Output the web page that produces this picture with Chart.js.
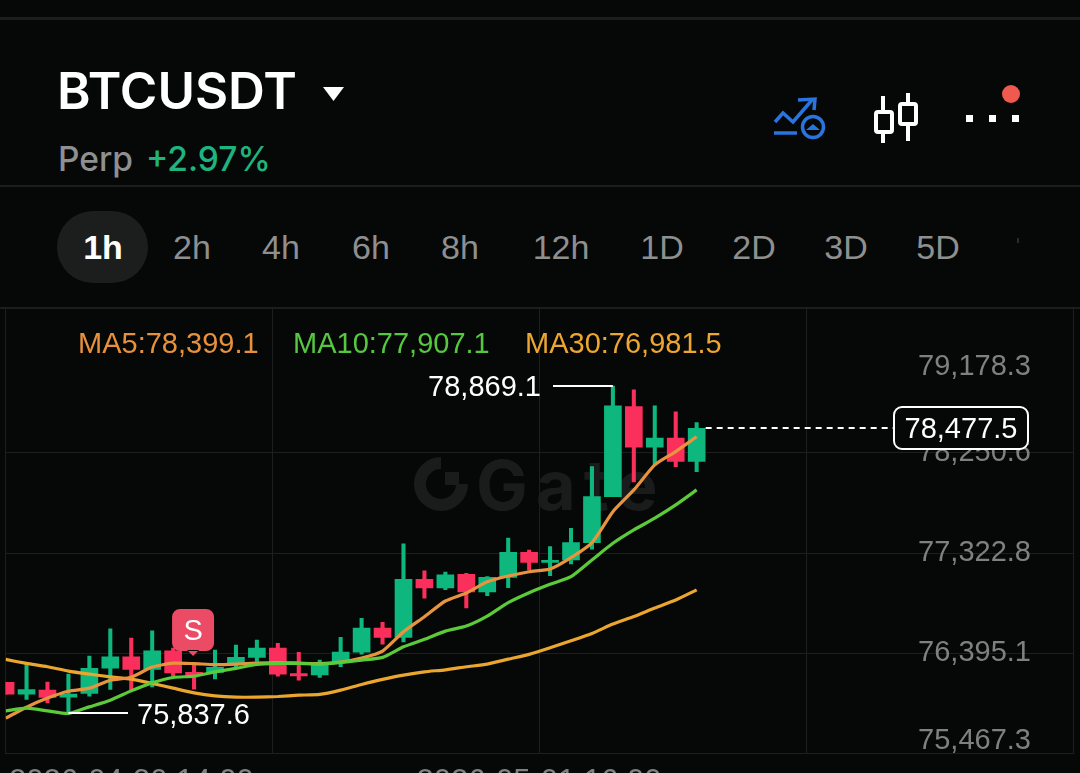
<!DOCTYPE html>
<html>
<head>
<meta charset="utf-8">
<title>BTCUSDT</title>
<script src="https://cdn.jsdelivr.net/npm/chart.js@4"></script>
<style>
  html, body { margin: 0; padding: 0; background: #060707; }
  #page { position: relative; width: 1080px; height: 773px; overflow: hidden; background: #060707; font-family: "Liberation Sans", sans-serif; }
  #page > * { position: absolute; }
  canvas { left: 0; top: 0; }
  .rule { left: 0; width: 1080px; background: #1c1d1d; }
  .title { left: 57px; top: 60px; font: 600 51px Inter, sans-serif; color: #fff; line-height: 62px; white-space: nowrap; }
  .perp { left: 58px; top: 140px; font: 500 33.5px Inter, sans-serif; color: #8e8f90; line-height: 38px; }
  .change { left: 146px; top: 140px; font: 500 33.5px Inter, sans-serif; color: #1fb47e; line-height: 38px; }
  .pill { left: 57px; top: 211px; width: 91px; height: 72px; border-radius: 36px; background: #1c1d1d; }
  .tab { top: 228px; font-size: 34px; line-height: 38px; color: #8e8f8f; transform: translateX(-50%); }
  .tab.on { color: #fff; font-weight: 700; }
</style>
</head>
<body>
<div id="page">
  <div class="rule" style="top:17px;height:3px"></div>
  <div class="rule" style="top:185px;height:2px"></div>
  <div class="rule" style="top:307px;height:2px"></div>
  <div class="title">BTCUSDT</div>
  <div class="perp">Perp</div>
  <div class="change">+2.97%</div>
  <div class="pill"></div>
  <div id="tabs"></div>
  <svg width="1080" height="260" style="left:0;top:0">
    <polygon points="323,87 344,87 333.5,101" fill="#fff"/>
    <g fill="none" stroke="#2a74e0" stroke-width="3.5">
      <polyline points="775,122 783,113 793,122 812,100"/>
      <polyline points="798,100 815,99 814,110"/>
      <line x1="774" y1="133" x2="797" y2="133"/>
      <circle cx="813" cy="127" r="10.5"/>
    </g>
    <polygon points="806,130 820,130 813,124" fill="#2a74e0"/>
    <g fill="#060707" stroke="#fff" stroke-width="4">
      <line x1="883" y1="96" x2="883" y2="143"/>
      <rect x="876" y="112" width="16" height="20" rx="2"/>
      <line x1="908" y1="93" x2="908" y2="141"/>
      <rect x="900" y="104" width="16" height="20" rx="2"/>
    </g>
    <rect x="966" y="115" width="7" height="7" fill="#fff"/>
    <rect x="989" y="115" width="7" height="7" fill="#fff"/>
    <rect x="1012" y="115" width="7" height="7" fill="#fff"/>
    <circle cx="1011" cy="94" r="9" fill="#f05a4e"/>
    <rect x="1017" y="238" width="2" height="5" fill="#2a2b2b"/>
  </svg>
  <canvas id="klineChart" width="1080" height="773"></canvas>
</div>

<script>
const intervals = ["1h", "2h", "4h", "6h", "8h", "12h", "1D", "2D", "3D", "5D"]
const intervalCenters = [103, 192, 281, 371, 460, 561, 662, 754, 846, 938]

const yTicks = [75467.3, 76395.1, 77322.8, 78250.6, 79178.3]
const xTicks = [0, 12.75, 25.5, 38.25, 51]
const dateLabels = ["2026-04-30 14:00", "2026-05-01 16:00"]

// candles, oldest first
const open = [76125, 76017, 76054, 75989, 76023, 76258, 76362, 76245, 76418, 76218, 76218, 76301, 76357, 76443, 76208, 76195, 76320, 76406, 76628, 76542, 77080, 76999, 77126, 76962, 77098, 77330, 77237, 77259, 77419, 77845, 78679, 78303, 78386, 78170]
const high = [76125, 76295, 76128, 76202, 76369, 76622, 76536, 76603, 76443, 76295, 76424, 76471, 76517, 76486, 76403, 76332, 76542, 76718, 76681, 77407, 77157, 77147, 77135, 77104, 77462, 77351, 77382, 77552, 78123, 78869.1, 78834, 78686, 78630, 78531]
const low = [76017, 75968, 75936, 75837.6, 75998, 76060, 76054, 76084, 76183, 76063, 76158, 76255, 76320, 76183, 76146, 76171, 76270, 76387, 76480, 76499, 76904, 76983, 76814, 76928, 77002, 77166, 77113, 77221, 77358, 77845, 77981, 78139, 78123, 78077]
const close = [76017, 76060, 75986, 76017, 76255, 76362, 76245, 76418, 76214, 76195, 76264, 76357, 76443, 76202, 76186, 76285, 76406, 76628, 76542, 77080, 76999, 77122, 76962, 77098, 77330, 77237, 77256, 77419, 77845, 78686, 78303, 78386, 78170, 78477.5]

const ma5 = [75794, 75896, 75980, 76044, 76072, 76146, 76174, 76267, 76304, 76299, 76290, 76295, 76304, 76309, 76304, 76299, 76313, 76350, 76415, 76594, 76733, 76879, 76953, 77057, 77110, 77150, 77175, 77280, 77419, 77706, 77907, 78139, 78262, 78399.1]
const ma10 = [75862, 75887, 75862, 75838, 75899, 75961, 76047, 76121, 76171, 76183, 76223, 76255, 76292, 76301, 76301, 76295, 76310, 76332, 76357, 76455, 76524, 76600, 76647, 76739, 76863, 76955, 77033, 77104, 77259, 77413, 77537, 77645, 77768, 77907.1]
const ma30 = [76338, 76301, 76270, 76230, 76202, 76177, 76156, 76116, 76072, 76029, 76001, 75989, 75989, 75995, 76007, 76014, 76054, 76106, 76153, 76193, 76223, 76242, 76270, 76295, 76341, 76385, 76446, 76511, 76579, 76665, 76735, 76814, 76888, 76981.5]

const UP = "#0db77d"
const DOWN = "#fb2f5c"
const GRID = "#1d1e1e"
const BG = "#060707"
const FONT = '29px "Liberation Sans", sans-serif'
const lastIndex = close.length - 1
const sellIndex = 9
const fmt = v => v.toLocaleString("en-US", { minimumFractionDigits: 1, maximumFractionDigits: 1 })

const tabs = document.getElementById("tabs")
intervals.forEach((name, i) => {
    const el = document.createElement("div")
    el.className = i === 0 ? "tab on" : "tab"
    el.style.position = "absolute"
    el.style.left = intervalCenters[i] + "px"
    el.innerText = name
    tabs.appendChild(el)
})

function pairs(arrA, arrB) {
    return arrA.map((a, i) => ({ x: i, y: [a, arrB[i]] }))
}

function points(arr) {
    return arr.map((v, i) => ({ x: i, y: v }))
}

const candleColors = close.map((c, i) => (c >= open[i] ? UP : DOWN))

function lineSet(label, data, color, order) {
    return { type: "line", label, data: points(data), borderColor: color, borderWidth: 3.2, pointRadius: 0, tension: 0.2, order }
}

function text(ctx, str, x, y, color, align) {
    ctx.fillStyle = color
    ctx.textAlign = align || "left"
    ctx.textBaseline = "middle"
    ctx.fillText(str, x, y)
}

function hline(ctx, x1, x2, y) {
    ctx.strokeStyle = "#fff"
    ctx.lineWidth = 2
    ctx.beginPath()
    ctx.moveTo(x1, y)
    ctx.lineTo(x2, y)
    ctx.stroke()
}

// watermark sits under the candles
const watermark = {
    id: "watermark",
    beforeDatasetsDraw(chart) {
        const ctx = chart.ctx
        ctx.save()
        ctx.strokeStyle = "#1a1b1b"
        ctx.fillStyle = "#1a1b1b"
        ctx.lineWidth = 12
        ctx.beginPath()
        ctx.arc(441, 484, 21, -Math.PI / 2, 0, true)
        ctx.stroke()
        ctx.fillRect(445, 472, 14, 13)
        ctx.font = '700 69px Inter, sans-serif'
        ctx.letterSpacing = "8px"
        ctx.textAlign = "left"
        ctx.textBaseline = "alphabetic"
        ctx.fillText("Gate", 476, 510)
        ctx.restore()
    }
}

// labels, callouts and the last price tag
const overlay = {
    id: "overlay",
    afterDatasetsDraw(chart) {
        const ctx = chart.ctx
        const x = chart.scales.x
        const y = chart.scales.y
        ctx.save()
        ctx.font = FONT

        // first and last tick labels are kept inside the plot
        const nudge = [-12.5, 0, 0, 0.5, 14.5]
        yTicks.forEach((t, i) => text(ctx, fmt(t), 1031, y.getPixelForValue(t) + nudge[i], "#7f8080", "right"))

        text(ctx, "MA5:" + fmt(ma5[lastIndex]), 78, 345, "#e8913c")
        text(ctx, "MA10:" + fmt(ma10[lastIndex]), 293, 345, "#55c83f")
        text(ctx, "MA30:" + fmt(ma30[lastIndex]), 525, 345, "#eda630")

        const maxY = Math.round(y.getPixelForValue(Math.max(...high)))
        const maxX = x.getPixelForValue(high.indexOf(Math.max(...high)))
        hline(ctx, 553, maxX, maxY)
        text(ctx, fmt(Math.max(...high)), 541, maxY + 1.5, "#fff", "right")

        const minY = Math.round(y.getPixelForValue(Math.min(...low)))
        const minX = x.getPixelForValue(low.indexOf(Math.min(...low)))
        hline(ctx, minX, 128, minY)
        text(ctx, fmt(Math.min(...low)), 137, minY + 3, "#fff")

        // sell marker
        const sx = x.getPixelForValue(sellIndex) - 1
        ctx.fillStyle = "#ec4b66"
        ctx.beginPath()
        ctx.roundRect(sx - 21, 609, 42, 42, 8)
        ctx.moveTo(sx - 6, 650)
        ctx.lineTo(sx, 656)
        ctx.lineTo(sx + 6, 650)
        ctx.fill()
        text(ctx, "S", sx, 631.5, "#fff", "center")

        // last price
        const lastY = Math.round(y.getPixelForValue(close[lastIndex]))
        ctx.setLineDash([6, 5])
        hline(ctx, x.getPixelForValue(lastIndex) + 9, 893, lastY)
        ctx.setLineDash([])
        ctx.fillStyle = BG
        ctx.strokeStyle = "#fff"
        ctx.lineWidth = 2
        ctx.beginPath()
        ctx.roundRect(894, lastY - 21, 134, 42, 8)
        ctx.fill()
        ctx.stroke()
        text(ctx, fmt(close[lastIndex]), 961, lastY + 2, "#fff", "center")

        // date labels run off the bottom of the screen
        ctx.font = '31px "Liberation Sans", sans-serif'
        text(ctx, dateLabels[0], 9, 782, "#7f8080")
        text(ctx, dateLabels[1], 539, 782, "#7f8080", "center")
        ctx.restore()
    }
}

new Chart(document.getElementById("klineChart"), {
    type: "bar",
    data: {
        datasets: [
            lineSet("MA10", ma10, "#5ccb3a", 1),
            lineSet("MA5", ma5, "#e8943f", 2),
            lineSet("MA30", ma30, "#eba62d", 3),
            { label: "body", data: pairs(open, close), backgroundColor: candleColors, barThickness: 17, grouped: false, order: 4 },
            { label: "wick", data: pairs(low, high), backgroundColor: candleColors, barThickness: 3.4, grouped: false, order: 5 }
        ]
    },
    options: {
        responsive: false,
        animation: false,
        events: [],
        layout: { padding: { left: 5.6, right: 6.4, top: 308, bottom: 19.5 } },
        plugins: { legend: { display: false }, tooltip: { enabled: false } },
        scales: {
            x: {
                type: "linear",
                offset: false,
                min: xTicks[0],
                max: xTicks[xTicks.length - 1],
                afterBuildTicks: s => { s.ticks = xTicks.map(v => ({ value: v })) },
                ticks: { display: false },
                border: { display: false },
                grid: { color: GRID, drawTicks: false, offset: false }
            },
            y: {
                position: "right",
                min: 75467.3,
                max: 79591,
                afterBuildTicks: s => { s.ticks = yTicks.map(v => ({ value: v })) },
                ticks: { display: false },
                border: { display: false },
                // the top tick has a label but no line in the picture
                grid: { color: c => (c.tick && c.tick.value === yTicks[4] ? "transparent" : GRID), drawTicks: false }
            }
        }
    },
    plugins: [watermark, overlay]
})
</script>
</body>
</html>
